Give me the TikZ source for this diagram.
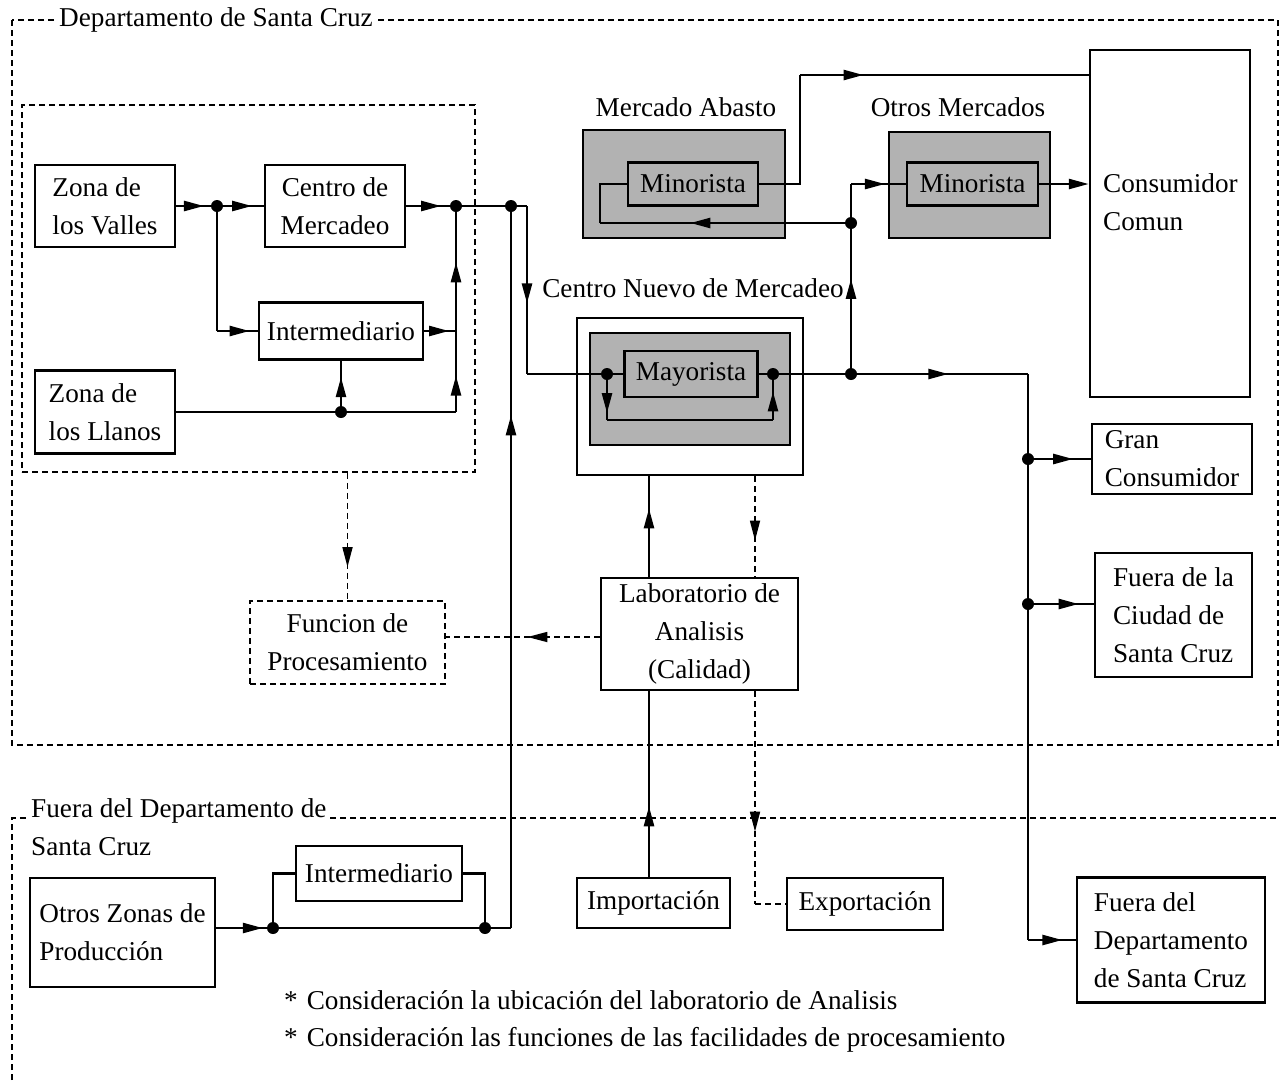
\documentclass[tikz,border=0pt]{standalone}
\usepackage{fontspec}
\setmainfont{Liberation Serif}
\usetikzlibrary{arrows.meta,decorations.markings,calc}
\begin{document}
\begin{tikzpicture}[x=1pt,y=-1pt,
  font=\fontsize{27.2pt}{38pt}\selectfont,
  box/.style={draw,line width=2.5pt,inner sep=0pt,align=center},
  lbox/.style={box,align=left},
  shadebox/.style={draw,line width=2.4pt,fill=black!30,inner sep=0pt},
  dbox/.style={draw,line width=1.7pt,dash pattern=on 6pt off 4pt,inner sep=0pt,align=center},
  ln/.style={line width=2.5pt},
  dl/.style={line width=1.7pt,dash pattern=on 6pt off 4pt},
  ma/.style={postaction={decorate},decoration={markings,mark=at position #1 with {\arrow{Triangle[length=20pt,width=10pt]}}}},
  dot/.style={circle,fill,inner sep=0pt,minimum size=12pt},
  endtip/.style={-{Triangle[length=20pt,width=10pt]}},
]
\fill[white] (0,0) rectangle (1280,1080);
\useasboundingbox (0,0) rectangle (1280,1080);

% regions
\draw[dl] (12,20) rectangle (1278,745);
\node[fill=white,inner sep=3pt,anchor=west] (deptitle) at (56,20) {Departamento de Santa Cruz};
\draw[dl] (12,1080) -- (12,818) -- (1278,818);
\node[fill=white,inner xsep=4pt,inner ysep=1pt,anchor=north west,align=left] (fueratitle) at (27,797) {Fuera del Departamento de\\Santa Cruz};
\node[dbox,minimum width=453pt,minimum height=367pt] (zonebox) at (248.5,288.5) {};

% left nodes
\node[lbox,minimum width=140pt,minimum height=82pt] (valles) at (105,206) {Zona de\\los Valles};
\node[box,minimum width=140pt,minimum height=82pt] (centro) at (335,206) {Centro de\\Mercadeo};
\node[box,minimum width=164pt,minimum height=57pt] (inter1) at (341,331) {Intermediario};
\node[lbox,minimum width=140pt,minimum height=83pt] (llanos) at (105,412) {Zona de\\los Llanos};

% markets
\node (matitle) at (686,107) {Mercado Abasto};
\node[shadebox,minimum width=202pt,minimum height=108pt] (mashade) at (684,184) {};
\node[shadebox,minimum width=130pt,minimum height=43pt] (ma) at (693,184) {Minorista};
\node (omtitle) at (958,107) {Otros Mercados};
\node[shadebox,minimum width=161pt,minimum height=106pt] (omshade) at (969.5,185) {};
\node[shadebox,minimum width=131pt,minimum height=43pt] (om) at (972.5,184) {Minorista};
\node[box,minimum width=160pt,minimum height=347pt] (cc) at (1170,223.5) {};
\node[anchor=north west,align=left,inner sep=0pt] (cctext) at (1103,173) {Consumidor\\Comun};

% centro nuevo
\node (cnmtitle) at (693,288) {Centro Nuevo de Mercadeo};
\node[box,minimum width=226pt,minimum height=157pt] (cnm) at (690,396.5) {};
\node[shadebox,minimum width=200pt,minimum height=112pt] (cnmshade) at (690,389) {};
\node[shadebox,minimum width=133pt,minimum height=46pt] (may) at (691,374) {Mayorista};

% right nodes
\node[lbox,minimum width=160pt,minimum height=70pt] (gran) at (1172,459) {Gran\\Consumidor};
\node[lbox,minimum width=157pt,minimum height=124pt] (ciudad) at (1173.5,615) {Fuera de la\\Ciudad de\\Santa Cruz};
\node[lbox,minimum width=188pt,minimum height=125pt] (dept) at (1171,940) {Fuera del\\Departamento\\de Santa Cruz};

% lab etc
\node[box,minimum width=197pt,minimum height=112pt] (lab) at (699.5,634) {Laboratorio de\\Analisis\\(Calidad)};
\node[dbox,minimum width=195pt,minimum height=83pt] (fun) at (347.5,642.5) {Funcion de\\Procesamiento};
\node[box,minimum width=153pt,minimum height=50pt] (imp) at (653.5,903) {Importación};
\node[box,minimum width=156pt,minimum height=52pt] (exp) at (865,904) {Exportación};
\node[lbox,minimum width=185pt,minimum height=109pt] (oz) at (122.5,932.5) {Otros Zonas de\\Producción};
\node[box,minimum width=166pt,minimum height=55pt] (inter2) at (379,873.5) {Intermediario};

% notes
\node[anchor=west,inner sep=0pt] (note1) at (284,1000) {*\hspace{9pt}Consideración la ubicación del laboratorio de Analisis};
\node[anchor=west,inner sep=0pt] (note2) at (284,1040) {*\hspace{9pt}Consideración las funciones de las facilidades de procesamiento};

% junctions
\node[dot] (j1) at (217,206) {};
\node[dot] (j2) at (456,206) {};
\node[dot] (j3) at (341,412) {};
\node[dot] (j4) at (511,206) {};
\node[dot] (mj1) at (607,374) {};
\node[dot] (mj2) at (773,374) {};
\node[dot] (j6) at (851,374) {};
\node[dot] (j7) at (851,223) {};
\node[dot] (jg) at (1028,459) {};
\node[dot] (jc) at (1028,604) {};
\node[dot] (j8) at (273,928) {};
\node[dot] (j9) at (485,928) {};

\coordinate (c1) at (217,331);
\coordinate (c2) at (456,331);
\coordinate (c3) at (456,412);
\coordinate (c4) at (527,206);
\coordinate (c5) at (527,374);
\coordinate (c6) at (607,420);
\coordinate (c7) at (773,420);
\coordinate (c8) at (1028,374);
\coordinate (c9) at (1028,940);
\coordinate (c10) at (851,184);
\coordinate (c11) at (600,223);
\coordinate (c12) at (600,184);
\coordinate (c13) at (800,184);
\coordinate (c14) at (800,75);
\coordinate (c15) at (755,904);
\coordinate (c16) at (273,873.5);
\coordinate (c17) at (485,873.5);
\coordinate (c18) at (511,928);
\coordinate (xa) at (649,0);
\coordinate (xb) at (755,0);
\coordinate (yf) at (0,637);

% production zone connectors
\draw[ln,ma=0.68] (valles.east) -- (j1.center);
\draw[ln,ma=0.75] (j1.center) -- (centro.west);
\draw[ln] (j1.center) -- (c1);
\draw[ln,ma=0.8] (c1) -- (inter1.west);
\draw[ln,ma=0.7] (centro.east) -- (j2.center);
\draw[ln,ma=0.78] (inter1.east) -- (c2);
\draw[ln,ma=0.55] (c2) -- (j2.center);
\draw[ln] (llanos.east) -- (j3.center);
\draw[ln,ma=0.68] (j3.center) -- (inter1.south);
\draw[ln] (j3.center) -- (c3);
\draw[ln,ma=0.45] (c3) -- (c2);
\draw[ln] (j2.center) -- (j4.center);
\draw[ln] (j4.center) -- (c4);
\draw[ln,ma=0.58] (c4) -- (c5);
\draw[ln] (c5) -- (mj1.center);
\draw[ln] (mj1.center) -- (may.west);
\draw[ln] (may.east) -- (mj2.center);
\draw[ln,ma=0.85] (mj1.center) -- (c6);
\draw[ln] (c6) -- (c7);
\draw[ln,ma=0.62] (c7) -- (mj2.center);

% distribution
\draw[ln] (mj2.center) -- (j6.center);
\draw[ln,ma=0.55] (j6.center) -- (c8);
\draw[ln] (c8) -- (jg.center);
\draw[ln] (jg.center) -- (jc.center);
\draw[ln] (jc.center) -- (c9);
\draw[ln,ma=0.72] (jg.center) -- (gran.west);
\draw[ln,ma=0.77] (jc.center) -- (jc.center -| ciudad.west);
\draw[ln,ma=0.72] (c9) -- (dept.west);

\draw[ln,ma=0.63] (j6.center) -- (j7.center);
\draw[ln] (j7.center) -- (c10);
\draw[ln,ma=0.62] (c10) -- (om.west);
\draw[ln,endtip] (om.east) -- (cc.west |- om.east);
\draw[ln,ma=0.64] (j7.center) -- (c11);
\draw[ln] (c11) -- (c12) -- (ma.west);
\draw[ln] (ma.east) -- (c13) -- (c14);
\draw[ln,ma=0.22] (c14) -- (cc.west |- c14);

% lab
\draw[ln,ma=0.68] (lab.north -| xa) -- (cnm.south -| xa);
\draw[dl,ma=0.64] (cnm.south -| xb) -- (lab.north -| xb);
\draw[ln,ma=0.38] (imp.north -| xa) -- (lab.south -| xa);
\draw[dl,ma=0.66] (lab.south -| xb) -- (c15);
\draw[dl] (c15) -- (exp.west);
\draw[dl,ma=0.74] (zonebox.south -| fun.north) -- (fun.north);
\draw[dl,ma=0.47] (lab.west |- yf) -- (fun.east |- yf);

% outside production
\draw[ln,ma=0.82] (oz.east |- j8) -- (j8.center);
\draw[ln] (j8.center) -- (c16) -- (inter2.west);
\draw[ln] (inter2.east) -- (c17) -- (j9.center);
\draw[ln] (j8.center) -- (j9.center);
\draw[ln] (j9.center) -- (c18);
\draw[ln,ma=0.71] (c18) -- (j4.center);
\end{tikzpicture}
\end{document}
